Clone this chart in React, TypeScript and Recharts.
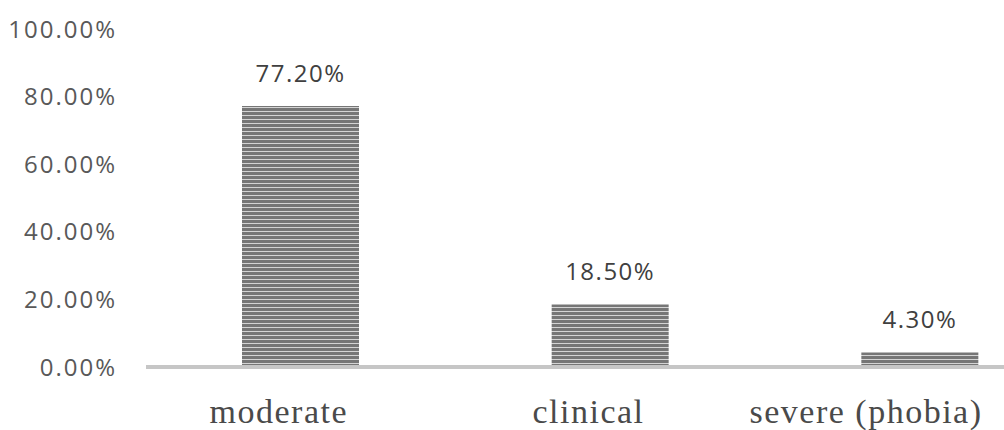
import { BarChart, Bar, XAxis, YAxis, LabelList } from "recharts";

const categories = ["moderate", "clinical", "severe (phobia)"];
const values = [77.2, 18.5, 4.3];
const yTicks = [0, 20, 40, 60, 80, 100];

const data = categories.map((name, i) => ({ name, value: values[i] }));

const pct = (v: number) => `${v.toFixed(2)}%`;

const XTick = (props: any) => {
  const { x, y, payload } = props;
  // labels sit a bit left of the bars; last one is kept inside the visible area
  const cx = Math.min(x - 22, 866);
  return (
    <text x={cx} y={y + 48} textAnchor="middle" fontFamily="'Liberation Serif', serif" fontSize={34} letterSpacing={1.5} fill="#4a4a4a">
      {payload.value}
    </text>
  );
};

export default function App() {
  return (
    <div style={{ position: "absolute", left: 0, top: 0, width: 1004, height: 430, overflow: "hidden", background: "#fff" }}>
      <svg width={0} height={0} style={{ position: "absolute" }}>
        <defs>
          <pattern id="stripes" width={8} height={4} patternUnits="userSpaceOnUse">
            <rect width={8} height={4} fill="#767676" />
            <rect y={3} width={8} height={1} fill="#d4d4d4" />
          </pattern>
        </defs>
      </svg>
      <BarChart width={1075} height={430} data={data} margin={{ top: 29, right: 0, left: 0, bottom: 33 }}>
        <XAxis dataKey="name" axisLine={{ stroke: "#c6c6c6", strokeWidth: 4 }} tickLine={false} tick={<XTick />} interval={0} />
        <YAxis
          domain={[0, 100]}
          ticks={yTicks}
          width={146}
          axisLine={false}
          tickLine={false}
          tickSize={0}
          tickMargin={29}
          tickFormatter={pct}
          tick={{ fontSize: 24, fill: "#595959", fontFamily: "'Open Sans', sans-serif", letterSpacing: 2 }}
        />
        <Bar dataKey="value" barSize={117} fill="url(#stripes)" isAnimationActive={false}>
          <LabelList
            dataKey="value"
            position="top"
            offset={24}
            formatter={(v: any) => pct(Number(v))}
            style={{ fontSize: 24, fill: "#404040", fontFamily: "'Open Sans', sans-serif", letterSpacing: 1.5 }}
          />
        </Bar>
      </BarChart>
    </div>
  );
}
